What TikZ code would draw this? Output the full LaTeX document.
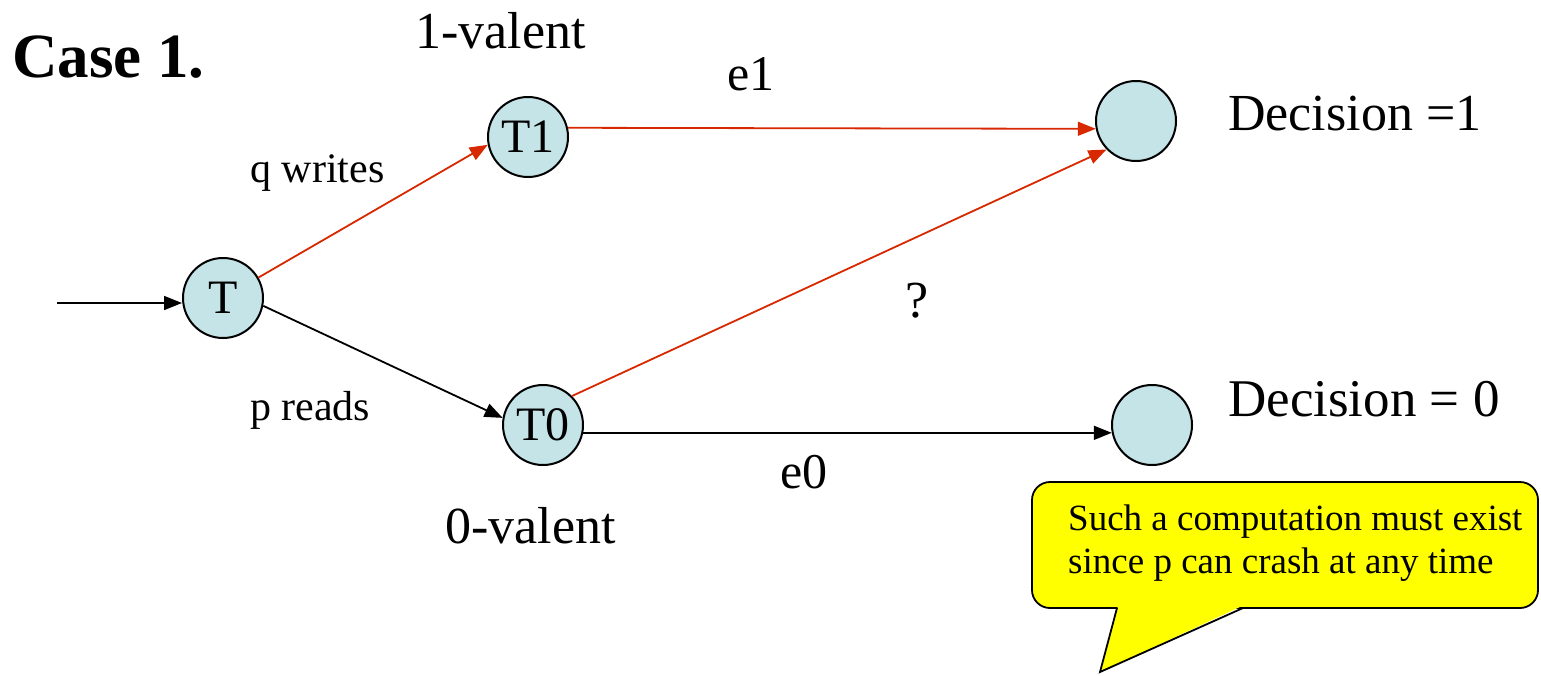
\documentclass[tikz,border=0pt]{standalone}
\usepackage{fontspec}
\setmainfont{Liberation Serif}
\usetikzlibrary{arrows.meta}
\definecolor{nodefill}{RGB}{196,228,232}
\definecolor{edgered}{RGB}{215,40,0}
\definecolor{callyellow}{RGB}{255,255,0}
\tikzset{
  state/.style={circle, draw=black, line width=2pt, fill=nodefill, minimum size=80pt, inner sep=0pt, font=\fontsize{48}{48}\selectfont},
  lbl/.style={inner sep=0pt, anchor=base west},
  edge/.style={line width=1.8pt, -{Triangle[length=18pt,width=14pt]}},
  rededge/.style={edge, draw=edgered, -{Triangle[length=18pt,width=14pt,fill=edgered]}},
}
\begin{document}
\begin{tikzpicture}[x=1pt,y=-1pt]
\useasboundingbox (0,0) rectangle (1541,675);
% nodes
\node[state] (T)  at (223,298) {T};
\node[state] (T1) at (528,137) {T1};
\node[state] (T0) at (543,425) {T0};
\node[state] (D1) at (1136,121) {};
\node[state] (D0) at (1152,425) {};
\coordinate (in) at (57,303);
% edges
\draw[edge] (in) -- (T.west |- in);
\draw[rededge] (T.30) -- (T1.191);
\draw[edge] (T.-11) -- (T0.170);
\draw[rededge] (T1.13) -- (D1.191);
\draw[rededge] (T0.45) -- (D1.224);
\draw[edge] (T0.-11) -- (D0.191);
% labels
\node[lbl, font=\fontsize{63}{63}\selectfont\bfseries] (case) at (12,77) {Case 1.};
\node[lbl, font=\fontsize{52}{52}\selectfont] (v1) at (415,48) {1-valent};
\node[lbl, font=\fontsize{52}{52}\selectfont] (v0) at (445,543) {0-valent};
\node[lbl, font=\fontsize{50}{50}\selectfont] (e1) at (727,90) {e1};
\node[lbl, font=\fontsize{50}{50}\selectfont] (e0) at (780,488) {e0};
\node[lbl, font=\fontsize{42}{42}\selectfont] (qw) at (250,182) {q writes};
\node[lbl, font=\fontsize{42}{42}\selectfont] (pr) at (250,420) {p reads};
\node[lbl, font=\fontsize{52}{52}\selectfont] (q) at (905,317) {?};
\node[lbl, font=\fontsize{52}{52}\selectfont] (d1) at (1228,130) {Decision =1};
\node[lbl, font=\fontsize{53}{53}\selectfont] (d0) at (1228,416) {Decision = 0};
% callout
\draw[line width=1.8pt, fill=callyellow, rounded corners=18pt] (1032,482) rectangle (1538,608);
\fill[callyellow] (1118,606) -- (1242,606) -- (1100,672) -- cycle;
\draw[line width=1.8pt, line join=miter] (1117,608) -- (1100,672) -- (1243,608);
\node[lbl, font=\fontsize{37}{37}\selectfont] (c1) at (1068,530) {Such a computation must exist};
\node[lbl, font=\fontsize{37}{37}\selectfont] (c2) at (1068,573) {since p can crash at any time};
\end{tikzpicture}
\end{document}
